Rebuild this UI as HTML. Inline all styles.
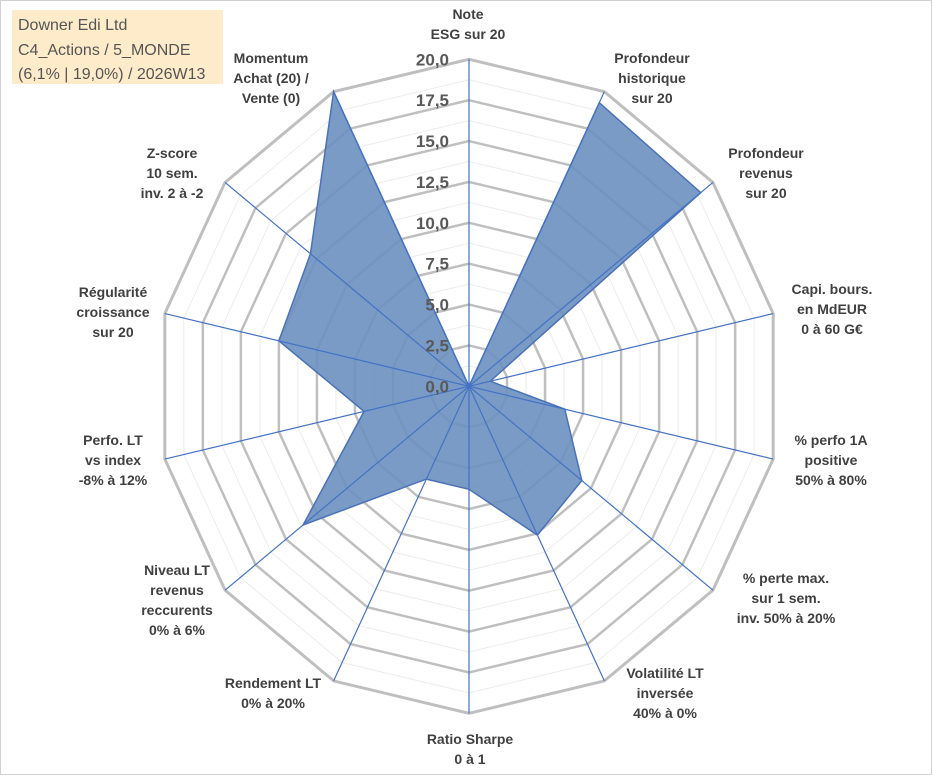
<!DOCTYPE html>
<html><head><meta charset="utf-8"><style>
body{margin:0;background:#fff;width:933px;height:776px;overflow:hidden;font-family:"Liberation Sans",sans-serif}
svg{position:absolute;left:0;top:0}
</style></head><body>
<svg id="chart" width="933" height="776">
<rect x="0.5" y="0.5" width="931" height="774" fill="#fff" stroke="#d0d0d0"/>
<rect x="12" y="10" width="211" height="74" fill="#fdebc9"/>
<text x="18" y="30" font-size="16" fill="#555">Downer Edi Ltd</text>
<text x="18" y="55" font-size="16" fill="#555">C4_Actions / 5_MONDE</text>
<text x="18" y="79" font-size="16" fill="#555">(6,1% | 19,0%) / 2026W13</text>
<g id="grid"></g><g id="series"></g><g id="axes"></g><g id="ticks"></g><g id="labels"></g>
</svg>
<script>
const categories=[
 ["Note","ESG sur 20"],["Profondeur","historique","sur 20"],["Profondeur","revenus","sur 20"],
 ["Capi. bours.","en MdEUR","0 à 60 G€"],["% perfo 1A","positive","50% à 80%"],
 ["% perte max.","sur 1 sem.","inv. 50% à 20%"],["Volatilité LT","inversée","40% à 0%"],
 ["Ratio Sharpe","0 à 1"],["Rendement LT","0% à 20%"],["Niveau LT","revenus","reccurents","0% à 6%"],
 ["Perfo. LT","vs index","-8% à 12%"],["Régularité","croissance","sur 20"],
 ["Z-score","10 sem.","inv. 2 à -2"],["Momentum","Achat (20) /","Vente (0)"]];
const values=[0,19.25,19.0,1.4,6.3,9.25,10.1,6.3,6.3,13.6,6.9,12.5,13.0,20];
const tickLabels=["0,0","2,5","5,0","7,5","10,0","12,5","15,0","17,5","20,0"];
const labelPos=[[468,14],[652,58],[766,153],[832,289],[831,440],[786,578],[665,673],[470,739],[273,683],[177,570],[113,440],[113,292],[172,153],[271,58]];
const NS="http://www.w3.org/2000/svg";
const cx=469,cy=386.3,RX=312,RY=327,maxV=20,N=categories.length;
function pt(i,v){const a=2*Math.PI*i/N;const f=v/maxV;return [cx+RX*f*Math.sin(a),cy-RY*f*Math.cos(a)];}
function mk(tag,attrs,parent){const e=document.createElementNS(NS,tag);for(const k in attrs)e.setAttribute(k,attrs[k]);parent.appendChild(e);return e;}
const grid=document.getElementById('grid');
for(let k=1;k<=16;k++){
 const v=k*1.25;const pts=[];for(let i=0;i<N;i++)pts.push(pt(i,v).join(','));
 const major=k%2===0;
 const p=mk('polygon',{points:pts.join(' '),fill:'none',stroke:major?'#bfbfbf':'#ececec','stroke-width':major?(k===16?3:2.5):1},grid);
 
 
}
const series=document.getElementById('series');
const sp=values.map((v,i)=>pt(i,v).join(',')).join(' ');
const poly=mk('polygon',{points:sp,fill:'#6a90bf','fill-opacity':'0.9',stroke:'#4a72b8','stroke-width':1.5},series);


const axes=document.getElementById('axes');
for(let i=0;i<N;i++){const e=pt(i,maxV);
 const l=mk('line',{x1:cx,y1:cy,x2:e[0],y2:e[1],stroke:'#4472c4','stroke-width':1.2},axes);
 
 
}
const ticks=document.getElementById('ticks');
tickLabels.forEach((t,k)=>{const y=cy-k*2.5/maxV*RY;
 const e=mk('text',{x:449,y:y+6,'text-anchor':'end','font-size':17,'font-weight':'bold',fill:'#595959'},ticks);
 e.textContent=t;
 
 
});
const labels=document.getElementById('labels');
categories.forEach((lines,i)=>{const [x,y]=labelPos[i];
 const e=mk('text',{x:x,y:y+5,'text-anchor':'middle','font-size':14,'font-weight':'bold',fill:'#404040'},labels);
 
 
 lines.forEach((s,j)=>{const ts=mk('tspan',{x:x,dy:j?20:0},e);ts.textContent=s;});
});
</script>
</body></html>
